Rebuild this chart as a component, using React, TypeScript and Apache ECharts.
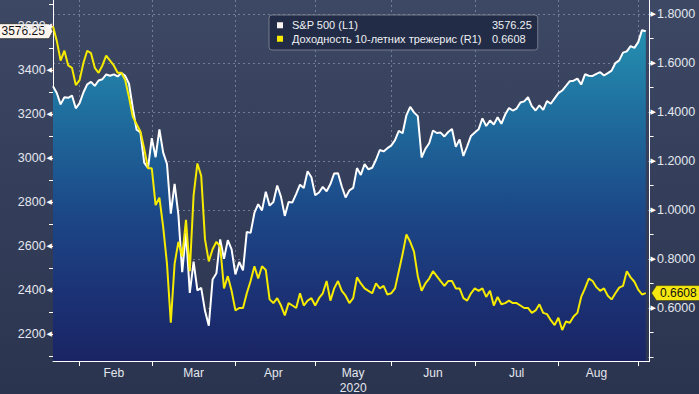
import React, { useEffect, useRef } from "react";
import * as echarts from "echarts";

// Trading days shown on the category axis (2020)
const JAN_DAYS = [23, 24, 27, 28, 29, 30, 31];
const FEB_DAYS = [3, 4, 5, 6, 7, 10, 11, 12, 13, 14, 18, 19, 20, 21, 24, 25, 26, 27, 28];
const MAR_DAYS = [2, 3, 4, 5, 6, 9, 10, 11, 12, 13, 16, 17, 18, 19, 20, 23, 24, 25, 26, 27, 30, 31];
const APR_DAYS = [1, 2, 3, 6, 7, 8, 9, 13, 14, 15, 16, 17, 20, 21, 22, 23, 24, 27, 28, 29, 30];
const MAY_DAYS = [1, 4, 5, 6, 7, 8, 11, 12, 13, 14, 15, 18, 19, 20, 21, 22, 26, 27, 28, 29];
const JUN_DAYS = [1, 2, 3, 4, 5, 8, 9, 10, 11, 12, 15, 16, 17, 18, 19, 22, 23, 24, 25, 26, 29, 30];
const JUL_DAYS = [1, 2, 6, 7, 8, 9, 10, 13, 14, 15, 16, 17, 20, 21, 22, 23, 24, 27, 28, 29, 30, 31];
const AUG_DAYS = [3, 4, 5, 6, 7, 10, 11, 12, 13, 14, 17, 18, 19, 20, 21, 24, 25, 26, 27, 28, 31];
const SEP_DAYS = [1, 2, 3, 4];
const MONTH_NAMES = ["Jan", "Feb", "Mar", "Apr", "May", "Jun", "Jul", "Aug", "Sep"];
const YEAR_LABEL = "2020";

// S&P 500 (left axis)
const SPX = [
  3325.54, 3295.47, 3243.63, 3276.24, 3273.4, 3283.66, 3225.52,
  3248.92, 3297.59, 3334.69, 3345.78, 3327.71, 3352.09, 3357.75, 3379.45, 3373.94, 3380.16, 3370.29, 3386.15, 3373.23, 3337.75, 3225.89, 3128.21, 3116.39, 2978.76, 2954.22,
  3090.23, 3003.37, 3130.12, 3023.94, 2972.37, 2746.56, 2882.23, 2741.38, 2480.64, 2660.0, 2386.13, 2529.19, 2398.1, 2409.39, 2304.92, 2237.4, 2447.33, 2475.56, 2630.07, 2541.47, 2626.65, 2584.59,
  2470.5, 2526.9, 2488.65, 2663.68, 2659.41, 2749.98, 2789.82, 2761.63, 2846.06, 2783.36, 2799.55, 2874.56, 2823.16, 2736.56, 2799.31, 2797.8, 2836.74, 2878.48, 2863.39, 2939.51, 2912.43,
  2830.71, 2842.74, 2868.44, 2848.42, 2881.19, 2929.8, 2930.32, 2870.12, 2820.0, 2852.5, 2863.7, 2953.91, 2922.94, 2971.61, 2948.51, 2955.45, 2991.77, 3036.13, 3029.73, 3044.31,
  3055.73, 3080.82, 3122.87, 3112.35, 3193.93, 3232.39, 3207.18, 3190.14, 3002.1, 3041.31, 3066.59, 3124.74, 3113.49, 3115.34, 3097.74, 3117.86, 3131.29, 3050.33, 3083.76, 3009.05, 3053.24, 3100.29,
  3115.86, 3130.01, 3179.72, 3145.32, 3169.94, 3152.05, 3185.04, 3155.22, 3197.52, 3226.56, 3215.57, 3224.73, 3251.84, 3257.3, 3276.02, 3235.66, 3215.63, 3239.41, 3218.44, 3258.44, 3246.22, 3271.12,
  3294.61, 3306.51, 3327.77, 3349.16, 3351.28, 3360.47, 3333.69, 3380.35, 3373.43, 3372.85, 3381.99, 3389.78, 3374.85, 3385.51, 3397.16, 3431.28, 3443.62, 3478.73, 3484.55, 3508.01, 3500.31,
  3526.65, 3580.84, 3576.25,
];

// 10-year Treasury yield (right axis)
const UST10 = [
  1.75, 1.69, 1.61, 1.65, 1.59, 1.58, 1.51,
  1.53, 1.6, 1.65, 1.64, 1.58, 1.56, 1.59, 1.63, 1.61, 1.59, 1.56, 1.56, 1.53, 1.46, 1.38, 1.35, 1.32, 1.25, 1.17,
  1.17, 1.02, 1.05, 0.93, 0.78, 0.54, 0.78, 0.87, 0.81, 0.96, 0.75, 1.06, 1.19, 1.14, 0.88, 0.79, 0.84, 0.87, 0.85, 0.68, 0.73, 0.67,
  0.59, 0.6, 0.6, 0.66, 0.71, 0.77, 0.72, 0.77, 0.755, 0.635, 0.62, 0.64, 0.61, 0.57, 0.62, 0.61, 0.6, 0.66, 0.61, 0.63, 0.64,
  0.61, 0.64, 0.66, 0.71, 0.63, 0.68, 0.71, 0.67, 0.65, 0.62, 0.64, 0.725, 0.7, 0.68, 0.67, 0.66, 0.7, 0.68, 0.69, 0.655,
  0.66, 0.68, 0.75, 0.82, 0.9, 0.87, 0.83, 0.73, 0.67, 0.7, 0.72, 0.75, 0.73, 0.71, 0.69, 0.71, 0.71, 0.68, 0.68, 0.64, 0.63, 0.66,
  0.68, 0.67, 0.68, 0.645, 0.67, 0.61, 0.645, 0.615, 0.62, 0.63, 0.62, 0.62, 0.61, 0.6, 0.6, 0.58, 0.59, 0.615, 0.58, 0.575, 0.55, 0.53,
  0.56, 0.51, 0.545, 0.54, 0.565, 0.58, 0.645, 0.68, 0.72, 0.71, 0.685, 0.67, 0.68, 0.65, 0.635, 0.66, 0.683, 0.69, 0.75, 0.725, 0.707,
  0.675, 0.655, 0.6608,
];

const SPX_NAME = "S&P 500 (L1)";
const UST_NAME = "Доходность 10-летних трежерис (R1)";
const SPX_LAST = "3576.25";
const UST_LAST = "0.6608";

const LEFT_TICKS = [2100, 2200, 2300, 2400, 2500, 2600, 2700, 2800, 2900, 3000, 3100, 3200, 3300, 3400, 3500, 3600, 3700];
const LEFT_LABELS = [2200, 2400, 2600, 2800, 3000, 3200, 3400, 3600];
const RIGHT_TICKS = [0.4, 0.5, 0.6, 0.7, 0.8, 0.9, 1.0, 1.1, 1.2, 1.3, 1.4, 1.5, 1.6, 1.7, 1.8];
const RIGHT_MAJOR = [0.4, 0.6, 0.8, 1.0, 1.2, 1.4, 1.6, 1.8];
const RIGHT_LABELS = [0.6, 0.8, 1.0, 1.2, 1.4, 1.6, 1.8];
const LEFT_RANGE = [2077, 3718];
const RIGHT_RANGE = [0.3836, 1.857];

const FONT = "Liberation Sans";
const LABEL_COLOR = "#e4e7ee";
const GRID_LINE = { color: "rgba(160,172,198,0.55)", type: [2, 3] as number[], width: 1 };

export default function App() {
  const ref = useRef<HTMLDivElement>(null);

  useEffect(() => {
    if (!ref.current) return;
    const chart = echarts.init(ref.current, undefined, { renderer: "svg" });

    const monthDays = [JAN_DAYS, FEB_DAYS, MAR_DAYS, APR_DAYS, MAY_DAYS, JUN_DAYS, JUL_DAYS, AUG_DAYS, SEP_DAYS];
    const dates: string[] = [];
    const starts: number[] = [];
    const ends: number[] = [];
    const pad = (n: number) => (n < 10 ? "0" + n : "" + n);
    monthDays.forEach((days, m) => {
      starts.push(dates.length);
      days.forEach((d) => dates.push(`2020-${pad(m + 1)}-${pad(d)}`));
      ends.push(dates.length - 1);
    });
    const tickSet = new Set<number>();
    for (let m = 1; m < monthDays.length; m++) tickSet.add(starts[m]);
    const labelMap = new Map<number, string>();
    for (let m = 1; m <= 7; m++) {
      const mid = Math.round((starts[m] + ends[m]) / 2);
      labelMap.set(mid, MONTH_NAMES[m] === "May" ? `May\n${YEAR_LABEL}` : MONTH_NAMES[m]);
    }

    const lastValue: Record<string, string> = { [SPX_NAME]: SPX_LAST, [UST_NAME]: UST_LAST };

    const option: any = {
      animation: false,
      backgroundColor: {
        type: "linear", x: 0, y: 0, x2: 0, y2: 1,
        colorStops: [
          { offset: 0, color: "#3d4864" },
          { offset: 1, color: "#2b344f" },
        ],
      },
      textStyle: { fontFamily: FONT },
      grid: { left: 53, right: 49.4, top: 0, bottom: 33, containLabel: false, outerBoundsMode: "none" },
      legend: {
        left: 269, top: 15, orient: "vertical", icon: "rect",
        itemWidth: 6, itemHeight: 6, itemGap: 1,
        padding: [4, 6, 5, 8],
        backgroundColor: "#232c46", borderColor: "#767c8c", borderWidth: 1, borderRadius: 3,
        selectedMode: false,
        data: [
          { name: SPX_NAME, itemStyle: { color: "#fbf3ef" } },
          { name: UST_NAME, itemStyle: { color: "#f5ea00" } },
        ],
        formatter: (name: string) => `{n|${name}}{v|${lastValue[name]}}`,
        textStyle: {
          color: "#eef0f4", fontSize: 11, fontFamily: FONT, lineHeight: 12.5,
          rich: {
            n: { width: 200, padding: [0, 0, 0, 4], fontSize: 11, fontFamily: FONT, color: "#eef0f4" },
            v: { fontSize: 11, fontFamily: FONT, color: "#eef0f4" },
          },
        },
      },
      xAxis: {
        type: "category", data: dates, boundaryGap: false,
        axisLine: { show: true, lineStyle: { color: "#ffffff", width: 1 } },
        axisTick: { show: true, interval: (i: number) => tickSet.has(i), length: 5, lineStyle: { color: "#ffffff" } },
        axisLabel: {
          interval: (i: number) => labelMap.has(i),
          formatter: (_v: string, i: number) => labelMap.get(i) || "",
          color: LABEL_COLOR, fontSize: 12, fontFamily: FONT, margin: 4, lineHeight: 15,
        },
        splitLine: { show: true, interval: (i: number) => tickSet.has(i), lineStyle: GRID_LINE },
      },
      yAxis: [
        {
          type: "value", position: "left", min: LEFT_RANGE[0], max: LEFT_RANGE[1],
          axisLine: { show: true, lineStyle: { color: "#ffffff", width: 1 } },
          axisTick: { show: true, customValues: LEFT_TICKS, length: 4, lineStyle: { color: "#ffffff" } },
          axisLabel: {
            customValues: LEFT_LABELS, margin: 1,
            formatter: (v: number) => `{v|${v}}{a|◀}`,
            rich: {
              v: { fontSize: 12.5, fontFamily: FONT, color: LABEL_COLOR, padding: [0, 1, 0, 0] },
              a: { fontSize: 7, fontFamily: "DejaVu Sans", color: "#ffffff" },
            },
          },
          splitLine: { show: false },
        },
        {
          type: "value", position: "right", min: RIGHT_RANGE[0], max: RIGHT_RANGE[1],
          axisLine: { show: true, lineStyle: { color: "#ffffff", width: 1 } },
          axisTick: { show: true, customValues: RIGHT_TICKS, length: 4, lineStyle: { color: "#ffffff" } },
          axisLabel: {
            customValues: RIGHT_LABELS, margin: 1,
            formatter: (v: number) => `{a|▶}{v|${v.toFixed(4)}}`,
            rich: {
              v: { fontSize: 12.5, fontFamily: FONT, color: LABEL_COLOR, padding: [0, 0, 0, 1] },
              a: { fontSize: 7, fontFamily: "DejaVu Sans", color: "#ffffff" },
            },
          },
          splitLine: { show: false },
        },
        {
          type: "value", position: "right", min: RIGHT_RANGE[0], max: RIGHT_RANGE[1],
          axisLine: { show: false },
          axisTick: { show: false, customValues: RIGHT_MAJOR },
          axisLabel: { show: false },
          splitLine: { show: true, lineStyle: GRID_LINE },
        },
      ],
      series: [
        {
          name: SPX_NAME, type: "line", data: SPX, yAxisIndex: 0,
          symbol: "none", showSymbol: false, color: "#ffffff",
          lineStyle: { color: "#ffffff", width: 2 },
          areaStyle: {
            origin: "start", opacity: 1,
            color: new echarts.graphic.LinearGradient(0, 0, 0, 1, [
              { offset: 0, color: "#2590b0" },
              { offset: 0.25, color: "#1f6e9e" },
              { offset: 0.55, color: "#1c4888" },
              { offset: 0.8, color: "#1b3275" },
              { offset: 1, color: "#1a2464" },
            ]),
          },
          z: 2,
        },
        {
          name: UST_NAME, type: "line", data: UST10, yAxisIndex: 1,
          symbol: "none", showSymbol: false, color: "#f5ea00",
          lineStyle: { color: "#f5ea00", width: 2 },
          z: 3,
        },
      ],
    };

    chart.setOption(option);

    const ySpx = chart.convertToPixel({ yAxisIndex: 0 }, SPX[SPX.length - 1]) as number;
    const yUst = chart.convertToPixel({ yAxisIndex: 1 }, UST10[UST10.length - 1]) as number;

    chart.setOption({
      graphic: [
        {
          type: "group", z: 100,
          children: [
            {
              type: "polygon",
              shape: { points: [[-2, ySpx - 7.5], [49, ySpx - 7.5], [53, ySpx], [49, ySpx + 7.5], [-2, ySpx + 7.5]] },
              style: { fill: "#fdf4ee", stroke: "#2a2a2a", lineWidth: 0.8 },
            },
            {
              type: "text", x: 1.5, y: ySpx,
              style: { text: SPX_LAST, fill: "#111111", font: `12px '${FONT}'`, textVerticalAlign: "middle", textAlign: "left" },
            },
            {
              type: "polygon",
              shape: { points: [[651.5, yUst], [656.5, yUst - 7.5], [702, yUst - 7.5], [702, yUst + 7.5], [656.5, yUst + 7.5]] },
              style: { fill: "#f5e70f", stroke: "#3a3a10", lineWidth: 0.6 },
            },
            {
              type: "text", x: 660, y: yUst,
              style: { text: UST_LAST, fill: "#111111", font: `12px '${FONT}'`, textVerticalAlign: "middle", textAlign: "left" },
            },
          ],
        },
      ],
    });

    return () => chart.dispose();
  }, []);

  return <div ref={ref} style={{ position: "fixed", left: 0, top: 0, width: 699, height: 394 }} />;
}
